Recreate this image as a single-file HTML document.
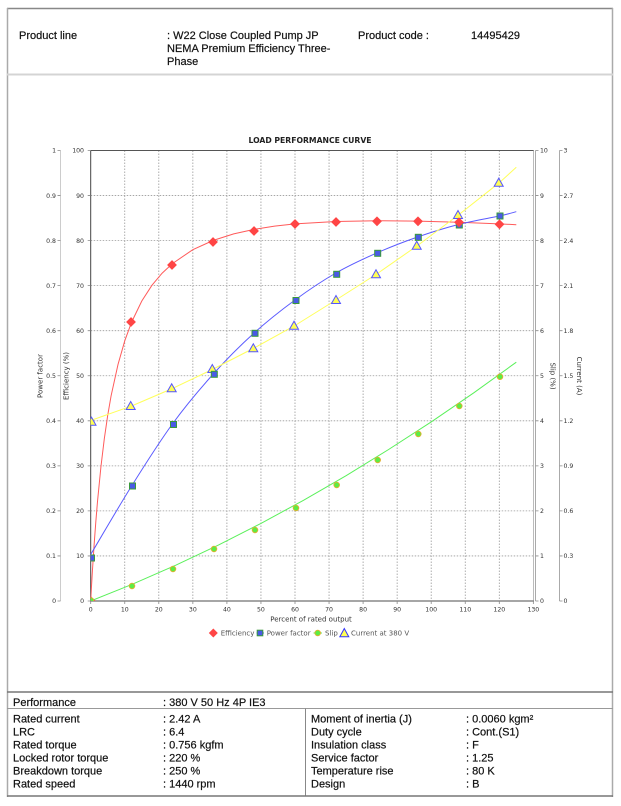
<!DOCTYPE html>
<html>
<head>
<meta charset="utf-8">
<style>
  html,body{margin:0;padding:0;background:#fff;}
  body{width:621px;height:806px;overflow:hidden;position:relative;}
  svg{position:absolute;left:0;top:0;}
  .hd{font-family:"Liberation Sans",Arial,sans-serif;font-size:11px;fill:#111;stroke:#111;stroke-width:0.2px;}
  .tk{font-family:"DejaVu Sans","Liberation Sans",sans-serif;font-size:6.2px;fill:#333;}
  .at{font-family:"DejaVu Sans","Liberation Sans",sans-serif;font-size:7px;fill:#333;}
  .lg{font-family:"DejaVu Sans","Liberation Sans",sans-serif;font-size:7px;fill:#555;}
</style>
</head>
<body>
<svg width="621" height="806" viewBox="0 0 621 806" xmlns="http://www.w3.org/2000/svg">
  <defs>
    <clipPath id="plot"><rect x="90.7" y="150.5" width="442.6" height="450.5"/></clipPath>
  </defs>

  <!-- frame -->
  <line x1="7" y1="8.5" x2="613" y2="8.5" stroke="#888" stroke-width="1.5"/>
  <line x1="7.5" y1="8" x2="7.5" y2="797" stroke="#aaa" stroke-width="1.5"/>
  <line x1="612.5" y1="8" x2="612.5" y2="797" stroke="#aaa" stroke-width="1.5"/>
  <line x1="7" y1="74.5" x2="613" y2="74.5" stroke="#d4d4d4" stroke-width="2"/>
  <line x1="7" y1="692" x2="613" y2="692" stroke="#777" stroke-width="1.5"/>
  <line x1="7" y1="708.5" x2="613" y2="708.5" stroke="#999" stroke-width="1"/>
  <line x1="305.5" y1="708.5" x2="305.5" y2="796" stroke="#888" stroke-width="1"/>
  <line x1="7" y1="796" x2="613" y2="796" stroke="#777" stroke-width="1.5"/>

  <!-- header -->
  <text class="hd" x="19" y="39">Product line</text>
  <text class="hd" x="167" y="39">: W22 Close Coupled Pump JP</text>
  <text class="hd" x="167" y="52">NEMA Premium Efficiency Three-</text>
  <text class="hd" x="167" y="65">Phase</text>
  <text class="hd" x="358" y="39">Product code :</text>
  <text class="hd" x="471" y="39">14495429</text>

  <!-- bottom table -->
  <text class="hd" x="13" y="706">Performance</text>
  <text class="hd" x="163" y="706">: 380 V 50 Hz 4P IE3</text>

  <text class="hd" x="13" y="722.3">Rated current</text>
  <text class="hd" x="13" y="735.3">LRC</text>
  <text class="hd" x="13" y="748.3">Rated torque</text>
  <text class="hd" x="13" y="761.3">Locked rotor torque</text>
  <text class="hd" x="13" y="774.3">Breakdown torque</text>
  <text class="hd" x="13" y="787.3">Rated speed</text>

  <text class="hd" x="163" y="722.3">: 2.42 A</text>
  <text class="hd" x="163" y="735.3">: 6.4</text>
  <text class="hd" x="163" y="748.3">: 0.756 kgfm</text>
  <text class="hd" x="163" y="761.3">: 220 %</text>
  <text class="hd" x="163" y="774.3">: 250 %</text>
  <text class="hd" x="163" y="787.3">: 1440 rpm</text>

  <text class="hd" x="311" y="722.3">Moment of inertia (J)</text>
  <text class="hd" x="311" y="735.3">Duty cycle</text>
  <text class="hd" x="311" y="748.3">Insulation class</text>
  <text class="hd" x="311" y="761.3">Service factor</text>
  <text class="hd" x="311" y="774.3">Temperature rise</text>
  <text class="hd" x="311" y="787.3">Design</text>

  <text class="hd" x="466" y="722.3">: 0.0060 kgm²</text>
  <text class="hd" x="466" y="735.3">: Cont.(S1)</text>
  <text class="hd" x="466" y="748.3">: F</text>
  <text class="hd" x="466" y="761.3">: 1.25</text>
  <text class="hd" x="466" y="774.3">: 80 K</text>
  <text class="hd" x="466" y="787.3">: B</text>

  <!-- chart title -->
  <text x="310" y="142.8" text-anchor="middle" font-family="DejaVu Sans, Liberation Sans, sans-serif" font-size="7.7" font-weight="bold" fill="#222">LOAD PERFORMANCE CURVE</text>

  <!-- grid -->
  <g stroke="#9a9a9a" stroke-width="0.8" stroke-dasharray="1.5,1.5" fill="none">
    <line x1="124.75" y1="150.5" x2="124.75" y2="601"/>
    <line x1="158.8" y1="150.5" x2="158.8" y2="601"/>
    <line x1="192.85" y1="150.5" x2="192.85" y2="601"/>
    <line x1="226.9" y1="150.5" x2="226.9" y2="601"/>
    <line x1="260.95" y1="150.5" x2="260.95" y2="601"/>
    <line x1="295" y1="150.5" x2="295" y2="601"/>
    <line x1="329.05" y1="150.5" x2="329.05" y2="601"/>
    <line x1="363.1" y1="150.5" x2="363.1" y2="601"/>
    <line x1="397.15" y1="150.5" x2="397.15" y2="601"/>
    <line x1="431.2" y1="150.5" x2="431.2" y2="601"/>
    <line x1="465.25" y1="150.5" x2="465.25" y2="601"/>
    <line x1="499.3" y1="150.5" x2="499.3" y2="601"/>
    <line x1="90.7" y1="555.95" x2="533.3" y2="555.95"/>
    <line x1="90.7" y1="510.9" x2="533.3" y2="510.9"/>
    <line x1="90.7" y1="465.85" x2="533.3" y2="465.85"/>
    <line x1="90.7" y1="420.8" x2="533.3" y2="420.8"/>
    <line x1="90.7" y1="375.75" x2="533.3" y2="375.75"/>
    <line x1="90.7" y1="330.7" x2="533.3" y2="330.7"/>
    <line x1="90.7" y1="285.65" x2="533.3" y2="285.65"/>
    <line x1="90.7" y1="240.6" x2="533.3" y2="240.6"/>
    <line x1="90.7" y1="195.55" x2="533.3" y2="195.55"/>
  </g>

  <!-- plot borders / axes -->
  <line x1="90.7" y1="150.5" x2="534" y2="150.5" stroke="#555" stroke-width="1"/>
  <line x1="533.5" y1="150.5" x2="533.5" y2="601" stroke="#bbb" stroke-width="1"/>
  <line x1="535.5" y1="150.5" x2="535.5" y2="601" stroke="#aaa" stroke-width="1"/>
  <line x1="559.5" y1="150.5" x2="559.5" y2="601" stroke="#aaa" stroke-width="1"/>
  <line x1="60.5" y1="150.5" x2="60.5" y2="601" stroke="#ccc" stroke-width="1"/>
  <line x1="90.7" y1="150.5" x2="90.7" y2="601" stroke="#444" stroke-width="1"/>
  <line x1="90" y1="601" x2="534" y2="601" stroke="#888" stroke-width="1.5"/>

  <!-- ticks -->
  <g stroke="#888" stroke-width="0.8">
    <path d="M87.7,601H90.7M87.7,555.95H90.7M87.7,510.9H90.7M87.7,465.85H90.7M87.7,420.8H90.7M87.7,375.75H90.7M87.7,330.7H90.7M87.7,285.65H90.7M87.7,240.6H90.7M87.7,195.55H90.7M87.7,150.5H90.7"/>
    <path d="M57.5,601H60.5M57.5,555.95H60.5M57.5,510.9H60.5M57.5,465.85H60.5M57.5,420.8H60.5M57.5,375.75H60.5M57.5,330.7H60.5M57.5,285.65H60.5M57.5,240.6H60.5M57.5,195.55H60.5M57.5,150.5H60.5"/>
    <path d="M535.5,601H538.5M535.5,555.95H538.5M535.5,510.9H538.5M535.5,465.85H538.5M535.5,420.8H538.5M535.5,375.75H538.5M535.5,330.7H538.5M535.5,285.65H538.5M535.5,240.6H538.5M535.5,195.55H538.5M535.5,150.5H538.5"/>
    <path d="M559.5,601H562.5M559.5,555.95H562.5M559.5,510.9H562.5M559.5,465.85H562.5M559.5,420.8H562.5M559.5,375.75H562.5M559.5,330.7H562.5M559.5,285.65H562.5M559.5,240.6H562.5M559.5,195.55H562.5M559.5,150.5H562.5"/>
    <path d="M90.7,601V604M124.75,601V604M158.8,601V604M192.85,601V604M226.9,601V604M260.95,601V604M295,601V604M329.05,601V604M363.1,601V604M397.15,601V604M431.2,601V604M465.25,601V604M499.3,601V604M533.35,601V604"/>
  </g>

  <!-- efficiency labels -->
  <g class="tk" text-anchor="end">
    <text x="84" y="603.2">0</text>
    <text x="84" y="558.2">10</text>
    <text x="84" y="513.1">20</text>
    <text x="84" y="468.1">30</text>
    <text x="84" y="423">40</text>
    <text x="84" y="378">50</text>
    <text x="84" y="332.9">60</text>
    <text x="84" y="287.9">70</text>
    <text x="84" y="242.8">80</text>
    <text x="84" y="197.8">90</text>
    <text x="84" y="152.7">100</text>
  </g>
  <!-- power factor labels -->
  <g class="tk" text-anchor="end">
    <text x="56" y="603.2">0</text>
    <text x="56" y="558.2">0.1</text>
    <text x="56" y="513.1">0.2</text>
    <text x="56" y="468.1">0.3</text>
    <text x="56" y="423">0.4</text>
    <text x="56" y="378">0.5</text>
    <text x="56" y="332.9">0.6</text>
    <text x="56" y="287.9">0.7</text>
    <text x="56" y="242.8">0.8</text>
    <text x="56" y="197.8">0.9</text>
    <text x="56" y="152.7">1</text>
  </g>
  <!-- slip labels -->
  <g class="tk">
    <text x="540" y="603.2">0</text>
    <text x="540" y="558.2">1</text>
    <text x="540" y="513.1">2</text>
    <text x="540" y="468.1">3</text>
    <text x="540" y="423">4</text>
    <text x="540" y="378">5</text>
    <text x="540" y="332.9">6</text>
    <text x="540" y="287.9">7</text>
    <text x="540" y="242.8">8</text>
    <text x="540" y="197.8">9</text>
    <text x="540" y="152.7">10</text>
  </g>
  <!-- current labels -->
  <g class="tk">
    <text x="563.5" y="603.2">0</text>
    <text x="563.5" y="558.2">0.3</text>
    <text x="563.5" y="513.1">0.6</text>
    <text x="563.5" y="468.1">0.9</text>
    <text x="563.5" y="423">1.2</text>
    <text x="563.5" y="378">1.5</text>
    <text x="563.5" y="332.9">1.8</text>
    <text x="563.5" y="287.9">2.1</text>
    <text x="563.5" y="242.8">2.4</text>
    <text x="563.5" y="197.8">2.7</text>
    <text x="563.5" y="152.7">3</text>
  </g>
  <!-- x labels -->
  <g class="tk" text-anchor="middle">
    <text x="90.7" y="611.5">0</text>
    <text x="124.75" y="611.5">10</text>
    <text x="158.8" y="611.5">20</text>
    <text x="192.85" y="611.5">30</text>
    <text x="226.9" y="611.5">40</text>
    <text x="260.95" y="611.5">50</text>
    <text x="295" y="611.5">60</text>
    <text x="329.05" y="611.5">70</text>
    <text x="363.1" y="611.5">80</text>
    <text x="397.15" y="611.5">90</text>
    <text x="431.2" y="611.5">100</text>
    <text x="465.25" y="611.5">110</text>
    <text x="499.3" y="611.5">120</text>
    <text x="533.35" y="611.5">130</text>
  </g>

  <!-- axis titles -->
  <text class="at" text-anchor="middle" transform="translate(42.7,376) rotate(-90)">Power factor</text>
  <text class="at" text-anchor="middle" transform="translate(68.3,376) rotate(-90)">Efficiency (%)</text>
  <text class="at" text-anchor="middle" transform="translate(550.5,376) rotate(90)">Slip (%)</text>
  <text class="at" text-anchor="middle" transform="translate(577,376) rotate(90)">Current (A)</text>
  <text class="at" x="311" y="621.5" text-anchor="middle" font-size="7.2">Percent of rated output</text>

  <!-- series -->
  <g clip-path="url(#plot)" fill="none" stroke-width="1">
    <path stroke="#ff5a5a" d="M90.7,601 L91.04,594.7 L91.55,585.5 L92.4,571.1 L94.1,545.0 L95.8,522.0 L97.5,501.5 L100.9,467.0 L104.3,438.8 L107.7,415.4 L111.1,395.8 L118.0,364.5 L124.8,340.7 L131.6,322.1 L141.8,301.0 L152.0,285.2 L162.2,273.1 L172.4,263.6 L192.8,249.7 L213.3,240.4 L233.7,233.9 L254.1,229.4 L274.6,226.1 L295.0,223.9 L335.9,221.5 L376.7,220.7 L417.6,221.1 L458.4,222.3 L499.3,223.9 L516.3,224.7"/>
    <path stroke="#5a5aff" d="M90.7,554.5 C97.5,543.1 118.0,507.75 131.6,486 C145.2,464.25 158.8,442.7 172.4,424 C186.0,405.3 199.7,389.2 213.3,374 C226.9,358.8 240.5,345.3 254.1,333 C267.7,320.7 281.4,310 295,300 C308.6,290 322.3,280.8 335.9,273 C349.5,265.2 363.1,259 376.7,253 C390.3,247 404.0,241.75 417.6,237 C431.2,232.25 444.8,228 458.4,224.5 C472.0,221 489.65,218.1 499.3,216 C508.95,213.9 513.5,212.4 516.3,211.7"/>
    <path stroke="#5af05a" d="M90.7,601 L133.3,583.85 L175.8,565.2 L218.4,545.06 L260.95,523.4 L303.5,500.3 L346.1,475.7 L388.6,449.5 L431.2,421.9 L473.8,392.8 L516.3,362.2"/>
    <path stroke="#ffff5a" d="M90.7,420.5 L131.6,406 L172.4,388.5 L213.3,369 L254.1,348 L295,325.5 L335.9,300 L376.7,274 L417.6,245.5 L458.4,215 L499.3,182.7 L516.3,167.3"/>

    <!-- current triangles -->
    <g fill="#ffff55" stroke="#5555ff" stroke-width="1">
      <polygon points="91.5,417.2 87,425.2 96,425.2"/>
      <polygon points="130.7,401.5 126.2,409.5 135.2,409.5"/>
      <polygon points="171.7,383.8 167.2,391.8 176.2,391.8"/>
      <polygon points="212.3,364.5 207.8,372.5 216.8,372.5"/>
      <polygon points="253.3,343.8 248.8,351.8 257.8,351.8"/>
      <polygon points="294,321.2 289.5,329.2 298.5,329.2"/>
      <polygon points="336,295.5 331.5,303.5 340.5,303.5"/>
      <polygon points="376,269.8 371.5,277.8 380.5,277.8"/>
      <polygon points="416.7,241.2 412.2,249.2 421.2,249.2"/>
      <polygon points="458,210.5 453.5,218.5 462.5,218.5"/>
      <polygon points="498.7,178.2 494.2,186.2 503.2,186.2"/>
    </g>
    <!-- power factor squares -->
    <g fill="#4a5ae6" stroke="#3a9a3a" stroke-width="1">
      <rect x="88.5" y="555" width="6" height="6"/>
      <rect x="129.5" y="483" width="6" height="6"/>
      <rect x="170.5" y="421.5" width="6" height="6"/>
      <rect x="211.3" y="371.3" width="6" height="6"/>
      <rect x="252" y="330.3" width="6" height="6"/>
      <rect x="293" y="297.5" width="6" height="6"/>
      <rect x="333.7" y="271.3" width="6" height="6"/>
      <rect x="374.7" y="250.3" width="6" height="6"/>
      <rect x="415.3" y="234.3" width="6" height="6"/>
      <rect x="456.3" y="222" width="6" height="6"/>
      <rect x="497" y="213" width="6" height="6"/>
    </g>
    <!-- efficiency diamonds -->
    <g fill="#ff4545" stroke="#ff4545" stroke-width="0.6">
      <polygon points="90.7,596.5 95.2,601 90.7,605.5 86.2,601"/>
      <polygon points="131,317.5 135.5,322 131,326.5 126.5,322"/>
      <polygon points="172,260.5 176.5,265 172,269.5 167.5,265"/>
      <polygon points="213,237.5 217.5,242 213,246.5 208.5,242"/>
      <polygon points="254,226.5 258.5,231 254,235.5 249.5,231"/>
      <polygon points="295,219.5 299.5,224 295,228.5 290.5,224"/>
      <polygon points="336,217.5 340.5,222 336,226.5 331.5,222"/>
      <polygon points="377,216.8 381.5,221.3 377,225.8 372.5,221.3"/>
      <polygon points="418,216.8 422.5,221.3 418,225.8 413.5,221.3"/>
      <polygon points="459,217.8 463.5,222.3 459,226.8 454.5,222.3"/>
      <polygon points="499.5,219.8 504,224.3 499.5,228.8 495,224.3"/>
    </g>
    <!-- slip circles -->
    <g fill="#5aee44" stroke="#e0b030" stroke-width="0.9">
      <circle cx="91" cy="600.5" r="2.8"/>
      <circle cx="132" cy="586" r="2.8"/>
      <circle cx="173" cy="569" r="2.8"/>
      <circle cx="214" cy="549" r="2.8"/>
      <circle cx="255" cy="530" r="2.8"/>
      <circle cx="296" cy="508" r="2.8"/>
      <circle cx="336.7" cy="485" r="2.8"/>
      <circle cx="377.7" cy="460" r="2.8"/>
      <circle cx="418.3" cy="434" r="2.8"/>
      <circle cx="459.3" cy="406" r="2.8"/>
      <circle cx="500" cy="376.7" r="2.8"/>
    </g>
  </g>

  <!-- legend -->
  <polygon points="213.3,628.5 217.8,633 213.3,637.5 208.8,633" fill="#ff4545"/>
  <text class="lg" x="220.7" y="635.5">Efficiency</text>
  <line x1="256.5" y1="633" x2="264" y2="633" stroke="#5a5aff" stroke-width="1"/>
  <rect x="257.2" y="630.2" width="5.6" height="5.6" fill="#4a5ae6" stroke="#3a9a3a" stroke-width="1"/>
  <text class="lg" x="266.7" y="635.5">Power factor</text>
  <line x1="313.5" y1="633" x2="322" y2="633" stroke="#5af05a" stroke-width="1"/>
  <circle cx="317.7" cy="633" r="2.8" fill="#5aee44" stroke="#e0b030" stroke-width="0.9"/>
  <text class="lg" x="325" y="635.5">Slip</text>
  <polygon points="344.3,628.5 339.8,636.8 348.8,636.8" fill="#ffff55" stroke="#3333ff" stroke-width="1"/>
  <text class="lg" x="351" y="635.5">Current at 380 V</text>
</svg>
</body>
</html>
